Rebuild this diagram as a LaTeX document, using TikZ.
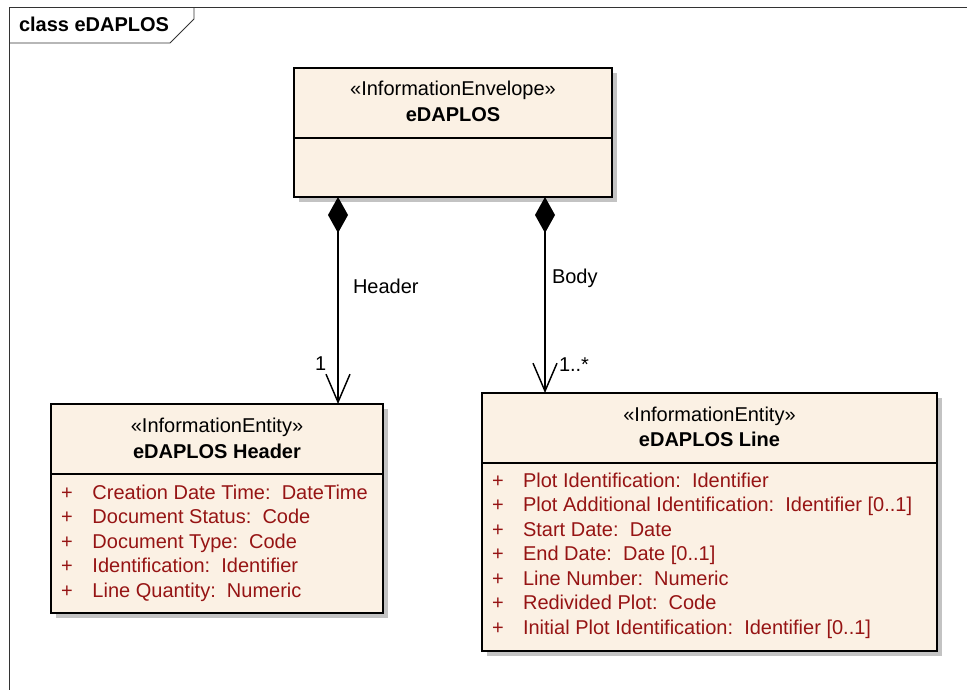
\documentclass[tikz,border=0pt]{standalone}
\usepackage{fontspec}
\setmainfont{Liberation Sans}
\usetikzlibrary{arrows.meta,shadows}
\definecolor{boxfill}{RGB}{251,241,228}
\definecolor{attrred}{RGB}{150,20,20}
\definecolor{shadowgray}{RGB}{195,195,195}
\begin{document}
\begin{tikzpicture}[x=0.75pt,y=-0.75pt,
  every node/.style={font=\fontsize{15}{18}\selectfont, inner sep=0pt, outer sep=0pt},
  classbox/.style={draw=black, line width=1.4pt, fill=boxfill, anchor=north west,
    drop shadow={shadow xshift=3.5pt, shadow yshift=-3.5pt, fill=shadowgray, opacity=1}},
  sepline/.style={draw=black, line width=1.1pt},
  framebox/.style={draw=black!80, line width=0.7pt},
  conn/.style={draw=black, line width=1.1pt, {Diamond[length=27pt,width=15pt]}-{Straight Barb[length=21pt,width=18pt,line width=1.1pt]}},
  stereo/.style={anchor=base},
  cname/.style={anchor=base, font=\fontsize{15}{18}\selectfont\bfseries},
  attr/.style={anchor=base west, text=attrred},
  lbl/.style={anchor=base west}
]
\useasboundingbox (0,0) rectangle (967,690);
% frame
\draw[framebox] (967,7) -- (9,7) -- (9,690);
\draw[framebox] (9,43) -- (170,43) -- (194,19) -- (194,7);
\node[anchor=base west, font=\fontsize{15}{18}\selectfont\bfseries] (title) at (19,31) {class eDAPLOS};

% envelope
\node[classbox, minimum width=238.5pt, minimum height=96.75pt] (env) at (294,68) {};
\draw[sepline] (294,138) -- (612,138);
\node[stereo] (envst) at (453,95) {«InformationEnvelope»};
\node[cname] (envnm) at (453,121) {eDAPLOS};

% header
\node[classbox, minimum width=249pt, minimum height=156.75pt] (hdr) at (51,404) {};
\draw[sepline] (51,474) -- (383,474);
\node[stereo] (hdrst) at (217,432) {«InformationEntity»};
\node[cname] (hdrnm) at (217,458) {eDAPLOS Header};
\node[attr] (h1) at (61,499) {\makebox[23.6pt][l]{+}Creation Date Time:~~DateTime};
\node[attr] (h2) at (61,523.5) {\makebox[23.6pt][l]{+}Document Status:~~Code};
\node[attr] (h3) at (61,548) {\makebox[23.6pt][l]{+}Document Type:~~Code};
\node[attr] (h4) at (61,572.5) {\makebox[23.6pt][l]{+}Identification:~~Identifier};
\node[attr] (h5) at (61,597) {\makebox[23.6pt][l]{+}Line Quantity:~~Numeric};

% line
\node[classbox, minimum width=341.25pt, minimum height=193.5pt] (lin) at (482,393) {};
\draw[sepline] (482,463) -- (937,463);
\node[stereo] (linst) at (709.5,421) {«InformationEntity»};
\node[cname] (linnm) at (709.5,446) {eDAPLOS Line};
\node[attr] (l1) at (492,487) {\makebox[23.3pt][l]{+}Plot Identification:~~Identifier};
\node[attr] (l2) at (492,511.5) {\makebox[23.3pt][l]{+}Plot Additional Identification:~~Identifier [0..1]};
\node[attr] (l3) at (492,536) {\makebox[23.3pt][l]{+}Start Date:~~Date};
\node[attr] (l4) at (492,560.5) {\makebox[23.3pt][l]{+}End Date:~~Date [0..1]};
\node[attr] (l5) at (492,585) {\makebox[23.3pt][l]{+}Line Number:~~Numeric};
\node[attr] (l6) at (492,609.5) {\makebox[23.3pt][l]{+}Redivided Plot:~~Code};
\node[attr] (l7) at (492,634) {\makebox[23.3pt][l]{+}Initial Plot Identification:~~Identifier [0..1]};

% connectors
\coordinate (cH) at ([xshift=33pt]env.south west);
\coordinate (cB) at ([xshift=188.25pt]env.south west);
\draw[conn] (cH) -- (cH |- hdr.north);
\draw[conn] (cB) -- (cB |- lin.north);
\node[lbl] (lh) at (353,293) {Header};
\node[lbl] (lb) at (552,283) {Body};
\node[lbl] (m1) at (315,370) {1};
\node[lbl] (m2) at (559,371.5) {1..*};
\end{tikzpicture}
\end{document}
